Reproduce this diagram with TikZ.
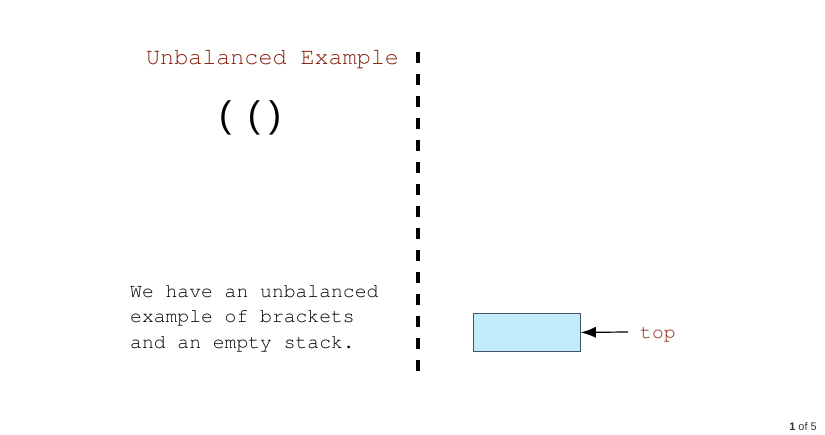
\documentclass[tikz,border=0pt]{standalone}
\usepackage{fontspec}
\setmainfont{Liberation Sans}
\usetikzlibrary{arrows.meta,positioning}
\newcommand\courierface{\fontencoding{T1}\fontfamily{pcr}\selectfont}
\definecolor{titlered}{RGB}{135,30,10}
\definecolor{stackblue}{RGB}{192,236,252}
\definecolor{stackedge}{RGB}{70,84,96}
\tikzset{
  mono/.style={font=\courierface\fontsize{19.7}{25.5}\selectfont, inner sep=0pt},
  cell/.style={draw=stackedge, fill=stackblue, line width=0.8pt, minimum width=107pt, minimum height=38pt, inner sep=0pt},
  divider/.style={line width=4pt, dash pattern=on 11pt off 11pt}
}
\begin{document}
\begin{tikzpicture}[x=1pt,y=-1pt]
\useasboundingbox (0,0) rectangle (825,434);
\node[mono, font=\courierface\fontsize{23.4}{28}\selectfont, text=titlered, anchor=base west] (title) at (146,64) {Unbalanced Example};
\node[inner sep=0pt, anchor=base west, font=\fontsize{37}{40}\selectfont] (parens) at (219,127) {(\hspace{16.5pt}(\hspace{8.5pt})};
\node[mono, anchor=base west, align=left] (note) at (130,348) {We have an unbalanced\\example of brackets\\and an empty stack.};
\coordinate (divtop) at (418,52);
\coordinate (divbot) at (418,375);
\draw[divider] (divtop) -- (divbot);
\node[cell, anchor=north west] (stack) at (473,313) {};
\node[mono, text=titlered, anchor=base west] (toplabel) at (640,338) {top};
\coordinate (arrowstart) at (628,332);
\draw[-{Latex[length=15pt,width=11pt]}, line width=1.2pt] (arrowstart) -- (stack.east);
\node[inner sep=0pt, anchor=base east, font=\fontsize{11}{13}\selectfont, text=black!80] (pagecount) at (817,430) {\textbf{1} of 5};
\end{tikzpicture}
\end{document}
